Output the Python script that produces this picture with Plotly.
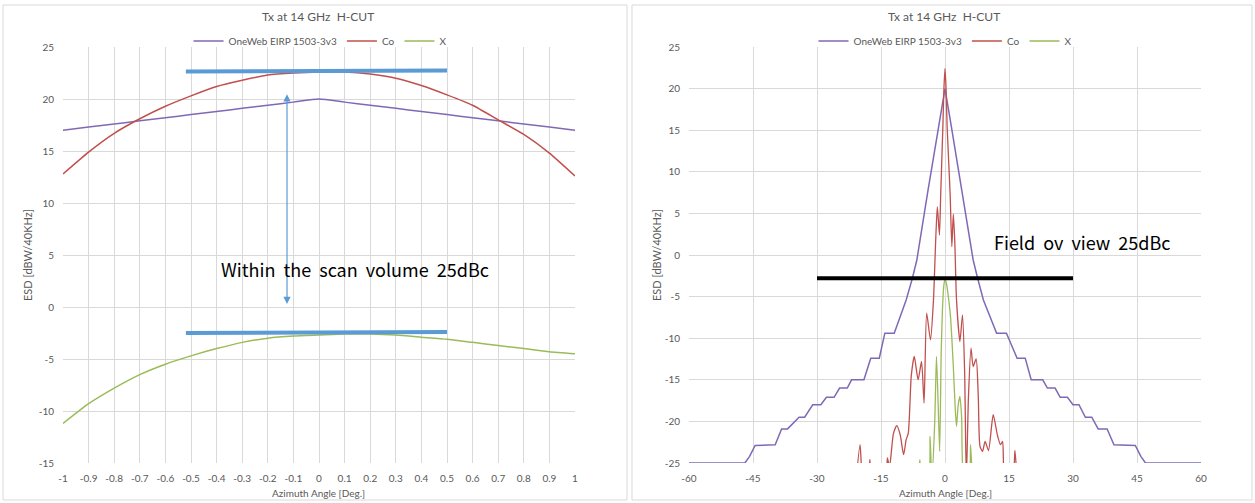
import plotly.graph_objects as go

W, H = 1255, 503

# ---------------- data: left chart (zoomed, -1..1 deg) ----------------
az_left = [-1.0, -0.9, -0.8, -0.7, -0.6, -0.5, -0.4, -0.3, -0.2, -0.1, 0.0,
           0.1, 0.2, 0.3, 0.4, 0.5, 0.6, 0.7, 0.8, 0.9, 1.0]
oneweb_left = [17.0, 17.3, 17.6, 17.9, 18.2, 18.5, 18.8, 19.1, 19.4, 19.7, 20.0,
               19.7, 19.4, 19.1, 18.8, 18.5, 18.2, 17.9, 17.6, 17.3, 17.0]
co_left = [12.8, 14.9, 16.7, 18.1, 19.3, 20.3, 21.2, 21.8, 22.3, 22.5, 22.6,
           22.6, 22.4, 22.0, 21.3, 20.4, 19.4, 18.0, 16.6, 14.8, 12.6]
x_left = [-11.2, -9.3, -7.8, -6.5, -5.5, -4.7, -4.0, -3.4, -3.0, -2.8, -2.7,
          -2.6, -2.6, -2.7, -2.9, -3.1, -3.4, -3.7, -4.0, -4.3, -4.5]

# ---------------- data: right chart (-60..60 deg) ----------------
mask_az = [-60, -46.9, -45.8, -44.5, -39.8, -38.3, -36.9, -34.2, -32.9, -31.0,
           -29.1, -27.8, -26.0, -24.7, -22.9, -21.9, -19.0, -17.4, -15.4, -14.1,
           -11.9, -9.1, -7.7, -6.6, -4.1, -1.5, 0, 1.5, 4.1, 6.6,
           7.7, 9.0, 12.1, 14.4, 16.9, 18.8, 20.2, 22.9, 24.0, 25.8,
           27.0, 28.7, 30.0, 31.4, 32.9, 34.4, 35.9, 38.0, 39.6, 44.6,
           45.9, 47.0, 60]
mask_db = [-25, -25, -24.2, -22.9, -22.8, -20.9, -20.9, -19.5, -19.5, -18.0,
           -18.0, -17.1, -17.1, -16.0, -16.0, -15.0, -15.0, -12.4, -12.4, -9.4,
           -9.4, -5.4, -2.9, -0.6, 7.4, 15.4, 20.0, 15.4, 7.4, -0.6,
           -2.9, -5.4, -9.4, -9.4, -12.4, -12.4, -15.0, -15.0, -16.0, -16.0,
           -17.1, -17.1, -18.0, -18.0, -19.5, -19.5, -20.9, -20.9, -22.8, -22.9,
           -24.2, -25, -25]

co_az = [-21.0, -19.9, -19.2, -17.9, -17.6, -17.3, -14.0, -13.5, -13.0, -12.1,
         -11.3, -10.5, -9.7, -9.1, -8.6, -7.9, -7.2, -6.3, -5.5, -4.9,
         -4.3, -3.4, -2.7, -2.2, -1.8, -1.3, -1.0, -0.5, -0.25, 0.0,
         0.25, 0.5, 1.2, 1.6, 1.95, 2.3, 2.7, 3.5, 4.1, 4.6,
         5.0, 5.5, 6.1, 6.6, 7.3, 7.8, 8.2, 8.8, 9.4, 10.2,
         11.3, 12.3, 13.0, 13.5, 14.1, 15.8, 16.4, 17.0]
co_db = [-28, -22.8, -28, -26.5, -24.6, -26.5, -27, -24.4, -25.5, -21.5,
         -20.5, -21.6, -24.0, -22.2, -21.4, -14.5, -12.2, -15.0, -12.8, -17.8,
         -7.0, -10.2, -5.4, 1.5, 5.8, 2.4, 7.4, 15.4, 20.0, 22.4,
         20.0, 15.4, 7.4, 1.0, 4.9, 1.5, -5.4, -10.4, -7.2, -14.0,
         -27.0, -17.0, -11.2, -13.4, -12.5, -17.0, -23.0, -23.6, -22.4, -23.5,
         -19.2, -21.7, -22.8, -22.4, -27, -27, -23.5, -28]

xp_az = [-6.3, -5.9, -5.5, -3.9, -3.5, -3.1, -2.4, -2.0, -1.6, -1.25,
         -0.9, -0.6, -0.3, 0.0, 0.4, 0.9, 1.3, 1.95, 2.4, 2.7,
         3.1, 3.5, 3.9, 4.5, 5.6, 6.0, 6.4]
xp_db = [-27, -24.6, -27, -27, -21.8, -27, -20.0, -12.2, -18.0, -23.6,
         -12.0, -6.6, -3.8, -2.8, -3.6, -5.5, -7.5, -13.4, -18.5, -20.6,
         -18.0, -17.0, -19.5, -27, -27, -22.8, -27]

# ticks
left_xticks = [-1.0, -0.9, -0.8, -0.7, -0.6, -0.5, -0.4, -0.3, -0.2, -0.1, 0.0,
               0.1, 0.2, 0.3, 0.4, 0.5, 0.6, 0.7, 0.8, 0.9, 1.0]
left_xlabels = ["-1", "-0.9", "-0.8", "-0.7", "-0.6", "-0.5", "-0.4", "-0.3", "-0.2", "-0.1", "0",
                "0.1", "0.2", "0.3", "0.4", "0.5", "0.6", "0.7", "0.8", "0.9", "1"]
left_yticks = [25, 20, 15, 10, 5, 0, -5, -10, -15]
right_xticks = [-60, -45, -30, -15, 0, 15, 30, 45, 60]
right_yticks = [25, 20, 15, 10, 5, 0, -5, -10, -15, -20, -25]

# annotation overlays (decorations drawn on the chart)
upper_bar = [(-0.52, 22.65), (0.5, 22.75)]
lower_bar = [(-0.52, -2.5), (0.5, -2.4)]
arrow_ends = [(-0.125, 20.6), (-0.125, 0.3)]
fov_bar = [(-30, -2.8), (30, -2.8)]

PURPLE = "#7F69B5"
RED = "#C0504D"
GREEN = "#9BBB59"
BLUE = "#5B9BD5"
GRID = "#D9D9D9"
TXT = "#595959"
FONT = "Lato, 'Open Sans', sans-serif"
BIG = "'Noto Sans CJK KR', 'Noto Sans', sans-serif"
SP = "\u00a0 "

def px(x):
    return x / W

def py(y):
    return (H - y) / H

L_X0, L_X1 = 63, 575
R_X0, R_X1 = 689, 1201
Y_TOP, Y_BOT = 47, 463

fig = go.Figure()

fig.add_trace(go.Scatter(x=az_left, y=oneweb_left, name="OneWeb EIRP 1503-3v3", mode="lines",
                         line=dict(color=PURPLE, width=1.5, shape="spline", smoothing=0.5),
                         xaxis="x", yaxis="y", legend="legend"))
fig.add_trace(go.Scatter(x=az_left, y=co_left, name="Co", mode="lines",
                         line=dict(color=RED, width=1.5, shape="spline", smoothing=0.5),
                         xaxis="x", yaxis="y", legend="legend"))
fig.add_trace(go.Scatter(x=az_left, y=x_left, name="X", mode="lines",
                         line=dict(color=GREEN, width=1.5, shape="spline", smoothing=0.5),
                         xaxis="x", yaxis="y", legend="legend"))

fig.add_trace(go.Scatter(x=mask_az, y=mask_db, name="OneWeb EIRP 1503-3v3", mode="lines",
                         line=dict(color=PURPLE, width=1.5), xaxis="x2", yaxis="y2",
                         legend="legend2"))
fig.add_trace(go.Scatter(x=co_az, y=co_db, name="Co", mode="lines",
                         line=dict(color=RED, width=1.3, shape="spline", smoothing=0.6),
                         xaxis="x2", yaxis="y2", legend="legend2"))
fig.add_trace(go.Scatter(x=xp_az, y=xp_db, name="X", mode="lines",
                         line=dict(color=GREEN, width=1.3, shape="spline", smoothing=0.6),
                         xaxis="x2", yaxis="y2", legend="legend2"))

axis_common = dict(showgrid=True, gridcolor=GRID, gridwidth=1, zeroline=False, showline=False,
                   ticks="", tickfont=dict(family=FONT, size=10, color=TXT), fixedrange=True,
                   automargin=False)

fig.update_layout(
    template="none",
    width=W, height=H,
    margin=dict(l=0, r=0, t=0, b=0, autoexpand=False),
    paper_bgcolor="white", plot_bgcolor="white",
    font=dict(family=FONT, color=TXT),
    xaxis=dict(domain=[px(L_X0), px(L_X1)], range=[-1, 1], tickmode="array",
               tickvals=left_xticks, ticktext=left_xlabels, anchor="y",
               ticklabelstandoff=8, **axis_common),
    yaxis=dict(domain=[py(Y_BOT), py(Y_TOP)], range=[-15, 25], tickmode="array",
               tickvals=left_yticks, ticktext=[str(v) for v in left_yticks], anchor="x",
               ticklabelstandoff=8, **axis_common),
    xaxis2=dict(domain=[px(R_X0), px(R_X1)], range=[-60, 60], tickmode="array",
                tickvals=right_xticks, ticktext=[str(v) for v in right_xticks], anchor="y2",
                ticklabelstandoff=8, **axis_common),
    yaxis2=dict(domain=[py(Y_BOT), py(Y_TOP)], range=[-25, 25], tickmode="array",
                tickvals=right_yticks, ticktext=[str(v) for v in right_yticks], anchor="x2",
                ticklabelstandoff=8, **axis_common),
    legend=dict(orientation="h", x=px(320), xanchor="center", y=py(41), yanchor="middle",
                font=dict(family=FONT, size=10, color=TXT), itemwidth=30,
                bgcolor="rgba(0,0,0,0)", tracegroupgap=0),
    legend2=dict(orientation="h", x=px(945), xanchor="center", y=py(41), yanchor="middle",
                 font=dict(family=FONT, size=10, color=TXT), itemwidth=30,
                 bgcolor="rgba(0,0,0,0)", tracegroupgap=0),
    showlegend=True,
)

shapes = []
shapes.append(dict(type="rect", xref="paper", yref="paper", x0=px(3), x1=px(627), y0=py(500), y1=py(5),
                   line=dict(color=GRID, width=1), layer="below"))
shapes.append(dict(type="rect", xref="paper", yref="paper", x0=px(632), x1=px(1252), y0=py(500), y1=py(5),
                   line=dict(color=GRID, width=1), layer="below"))
for bar in (upper_bar, lower_bar):
    shapes.append(dict(type="line", xref="x", yref="y", x0=bar[0][0], y0=bar[0][1],
                       x1=bar[1][0], y1=bar[1][1], line=dict(color=BLUE, width=4)))
shapes.append(dict(type="line", xref="x2", yref="y2", x0=fov_bar[0][0], y0=fov_bar[0][1],
                   x1=fov_bar[1][0], y1=fov_bar[1][1], line=dict(color="black", width=4)))
fig.update_layout(shapes=shapes)

ann = []
for cx in (318, 944):
    ann.append(dict(text="Tx at 14 GHz\u00a0 H-CUT", xref="paper", yref="paper", x=px(cx), y=py(17),
                    showarrow=False, font=dict(family=FONT, size=12, color=TXT),
                    xanchor="center", yanchor="middle"))
for cx, cy in ((28, 255), (657, 255)):
    ann.append(dict(text="ESD [dBW/40KHz]", xref="paper", yref="paper", x=px(cx), y=py(cy),
                    showarrow=False, textangle=-90, font=dict(family=FONT, size=11, color=TXT),
                    xanchor="center", yanchor="middle"))
for cx in (319, 945):
    ann.append(dict(text="Azimuth Angle [Deg.]", xref="paper", yref="paper", x=px(cx), y=py(493),
                    showarrow=False, font=dict(family=FONT, size=10, color=TXT),
                    xanchor="center", yanchor="middle"))
ann.append(dict(x=arrow_ends[1][0], y=arrow_ends[1][1], ax=arrow_ends[0][0], ay=arrow_ends[0][1],
                xref="x", yref="y", axref="x", ayref="y", text="", showarrow=True,
                arrowhead=2, startarrowhead=2, arrowside="end+start", arrowsize=1.2,
                arrowwidth=1.2, arrowcolor=BLUE))
ann.append(dict(text="Within" + SP + "the" + SP + "scan" + SP + "volume" + SP + "25dBc",
                xref="x", yref="y", x=0.14, y=3.7,
                showarrow=False, font=dict(family=BIG, size=18, color="black"),
                xanchor="center", yanchor="middle"))
ann.append(dict(text="Field" + SP + "ov" + SP + "view" + SP + "25dBc", xref="x2", yref="y2",
                x=32.3, y=1.6,
                showarrow=False, font=dict(family=BIG, size=18, color="black"),
                xanchor="center", yanchor="middle"))
fig.update_layout(annotations=ann)

fig.write_html("out.html", config={"displayModeBar": False},
               post_script="document.body.style.margin='0';document.body.style.overflow='hidden';")
